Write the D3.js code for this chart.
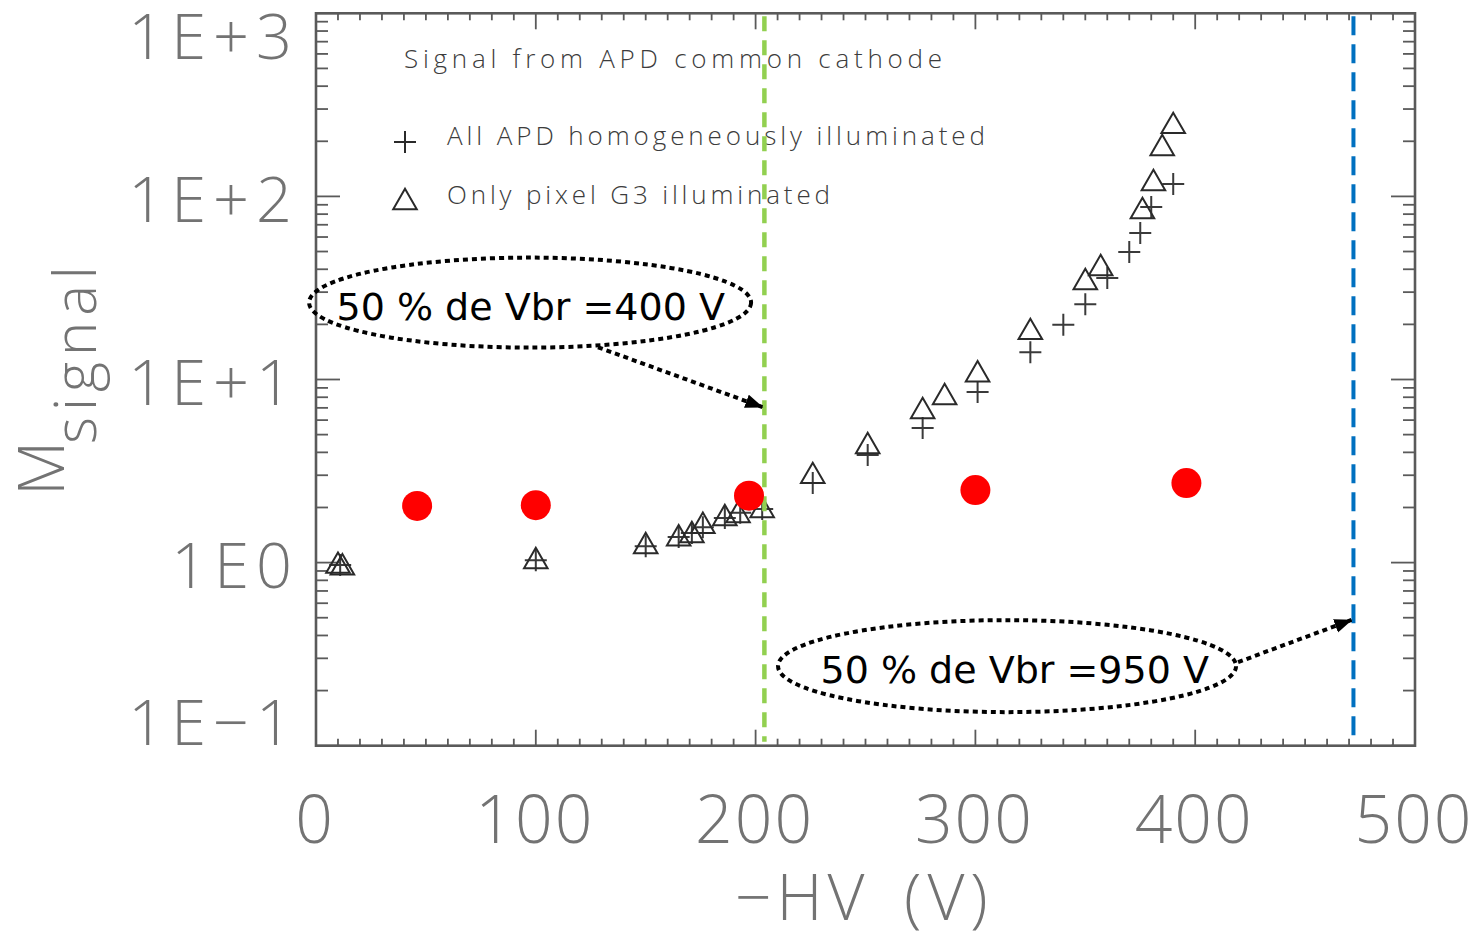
<!DOCTYPE html>
<html>
<head>
<meta charset="utf-8">
<script src="https://cdn.jsdelivr.net/npm/d3@7"></script>
<style>
  body { margin: 0; background: #fff; }
  svg { display: block; }
</style>
</head>
<body>
<svg id="chart" width="1480" height="935"></svg>
<script>
// Gain vs. reverse bias, signal taken from the APD common cathode
const hvAllApd   = [11, 100, 150, 165, 171, 176, 186, 193, 203, 226, 251, 276, 301, 325, 340, 350, 360, 370, 375, 380, 390];
const gainAllApd = [0.97, 1.03, 1.23, 1.38, 1.45, 1.56, 1.75, 1.87, 1.96, 2.72, 3.87, 5.43, 8.55, 14.1, 19.9, 25.8, 35.8, 49.7, 63.1, 87.5, 117];

const hvPixelG3   = [10, 12, 100, 150, 165, 171, 176, 186, 192, 203, 226, 251, 276, 286, 301, 325, 350, 357, 376, 381, 385, 390];
const gainPixelG3 = [1.0, 0.98, 1.06, 1.28, 1.41, 1.47, 1.65, 1.82, 1.89, 2.01, 3.09, 4.50, 6.99, 8.33, 11.1, 18.9, 35.4, 42.2, 86.5, 123, 191, 252];

const hvRef   = [46, 100, 197, 300, 396];
const gainRef = [2.04, 2.06, 2.32, 2.49, 2.72];

const xTickValues = [0, 100, 200, 300, 400, 500];
const yTickValues = [0.1, 1, 10, 100, 1000];
const yTickLabels = ["1E\u22121", "1E0", "1E+1", "1E+2", "1E+3"];

// half-breakdown voltage markers
const vbrHalf   = [204, 472];
const vbrLabels = ["50 % de Vbr =400 V", "50 % de Vbr =950 V"];
const vbrColors = ["#92D050", "#0070C0"];

const svg = d3.select("#chart");
const plotLeft = 316, plotRight = 1415, plotTop = 13.3, plotBottom = 745.7;

const x = d3.scaleLinear().domain([0, 500]).range([plotLeft, plotRight]);
const y = d3.scaleLog().domain([0.1, 1000]).range([plotBottom, plotTop]);

const hershey = "'Open Sans', 'Noto Sans', 'DejaVu Sans', sans-serif";
const frameColor = "#5a5a5a";
const labelColor = "#737373";

// ---- frame with ticks on all four sides ----
const frame = svg.append("g");
frame.append("rect")
  .attr("x", plotLeft).attr("y", plotTop)
  .attr("width", plotRight - plotLeft).attr("height", plotBottom - plotTop)
  .attr("fill", "none").attr("stroke", frameColor).attr("stroke-width", 2.6);

const xMinor = d3.range(0, 501, 10);
xMinor.forEach(v => {
  const major = v % 100 === 0;
  const len = major ? 16 : 7;
  frame.append("line").attr("x1", x(v)).attr("x2", x(v))
    .attr("y1", plotBottom).attr("y2", plotBottom - len)
    .attr("stroke", frameColor).attr("stroke-width", 1.8);
  frame.append("line").attr("x1", x(v)).attr("x2", x(v))
    .attr("y1", plotTop).attr("y2", plotTop + len)
    .attr("stroke", frameColor).attr("stroke-width", 1.8);
});

y.ticks().forEach(v => {
  const major = Math.abs(Math.log10(v) - Math.round(Math.log10(v))) < 1e-9;
  const len = major ? 24 : 12;
  frame.append("line").attr("y1", y(v)).attr("y2", y(v))
    .attr("x1", plotLeft).attr("x2", plotLeft + len)
    .attr("stroke", frameColor).attr("stroke-width", 1.8);
  frame.append("line").attr("y1", y(v)).attr("y2", y(v))
    .attr("x1", plotRight).attr("x2", plotRight - len)
    .attr("stroke", frameColor).attr("stroke-width", 1.8);
});

// ---- tick labels ----
const capH = 45;
svg.append("g").selectAll("text").data(yTickValues).join("text")
  .attr("x", 292)
  .attr("y", v => Math.max(plotTop + capH / 2 + 1, Math.min(plotBottom - capH / 2 - 1, y(v) + 3)) + capH / 2)
  .attr("text-anchor", "end")
  .attr("font-family", hershey).attr("font-weight", 300)
  .attr("font-size", 63).attr("letter-spacing", 7)
  .attr("fill", labelColor)
  .attr("dx", 7)
  .text((v, i) => yTickLabels[i]);

svg.append("g").selectAll("text").data(xTickValues).join("text")
  .attr("x", v => x(v) - 1)
  .attr("y", 843)
  .attr("text-anchor", "middle")
  .attr("font-family", hershey).attr("font-weight", 300)
  .attr("font-size", 66).attr("letter-spacing", 2)
  .attr("fill", labelColor)
  .text(v => v);

// ---- axis titles ----
const xTitle = svg.append("text")
  .attr("y", 920)
  .attr("font-family", hershey).attr("font-weight", 300)
  .attr("font-size", 64).attr("fill", labelColor);
xTitle.append("tspan").attr("x", 735).attr("letter-spacing", 5).text("\u2212HV");
xTitle.append("tspan").attr("x", 904).attr("letter-spacing", 6).text("(V)");

const yTitle = svg.append("text")
  .attr("transform", "translate(64,496) rotate(-90)")
  .attr("font-family", hershey).attr("font-weight", 300)
  .attr("fill", labelColor);
yTitle.append("tspan").attr("font-size", 64).text("M");
yTitle.append("tspan").attr("x", 52).attr("dy", 32)
  .attr("font-size", 58)
  .attr("textLength", 178).attr("lengthAdjust", "spacing")
  .text("signal");

// ---- legend ----
const legendColor = "#3c3c3c";
const legend = svg.append("g")
  .attr("font-family", hershey).attr("font-weight", 300)
  .attr("fill", legendColor).attr("font-size", 26);
legend.append("text").attr("x", 404).attr("y", 68)
  .attr("textLength", 538).attr("lengthAdjust", "spacing")
  .text("Signal from APD common cathode");
legend.append("text").attr("x", 447).attr("y", 145)
  .attr("textLength", 538).attr("lengthAdjust", "spacing")
  .text("All APD homogeneously illuminated");
legend.append("text").attr("x", 447).attr("y", 204)
  .attr("textLength", 383).attr("lengthAdjust", "spacing")
  .text("Only pixel G3 illuminated");

// ---- symbols ----
const plusSym = {
  draw(ctx, size) {
    const r = Math.sqrt(size) / 2;
    ctx.moveTo(-r, 0); ctx.lineTo(r, 0);
    ctx.moveTo(0, -r); ctx.lineTo(0, r);
  }
};
const triSym = {
  draw(ctx, size) {
    const a = Math.sqrt(size * 4 / Math.sqrt(3));
    const h = a * Math.sqrt(3) / 2;
    ctx.moveTo(0, -h / 2);
    ctx.lineTo(a / 2, h / 2);
    ctx.lineTo(-a / 2, h / 2);
    ctx.closePath();
  }
};
const plusPath = d3.symbol().type(plusSym).size(22 * 22)();
const triPath = d3.symbol().type(triSym).size(240)();

const markStroke = "#2a2a2a";

svg.append("path").attr("d", plusPath).attr("transform", "translate(405,142)")
  .attr("fill", "none").attr("stroke", markStroke).attr("stroke-width", 2);
svg.append("path").attr("d", triPath).attr("transform", "translate(405,199)")
  .attr("fill", "none").attr("stroke", markStroke).attr("stroke-width", 2);

svg.append("g").selectAll("path").data(hvAllApd).join("path")
  .attr("d", plusPath)
  .attr("transform", (v, i) => `translate(${x(v)},${y(gainAllApd[i])})`)
  .attr("fill", "none").attr("stroke", "#3a3a3a").attr("stroke-width", 2);

svg.append("g").selectAll("path").data(hvPixelG3).join("path")
  .attr("d", triPath)
  .attr("transform", (v, i) => `translate(${x(v)},${y(gainPixelG3[i])})`)
  .attr("fill", "none").attr("stroke", markStroke).attr("stroke-width", 2);

// ---- half-breakdown reference lines ----
svg.append("g").selectAll("line").data(vbrHalf).join("line")
  .attr("x1", v => x(v)).attr("x2", v => x(v))
  .attr("y1", plotTop + 3).attr("y2", plotBottom - 4)
  .attr("stroke", (v, i) => vbrColors[i])
  .attr("stroke-width", (v, i) => i === 0 ? 4.5 : 4)
  .attr("stroke-dasharray", (v, i) => i === 0 ? "15 9" : "19 9");

// ---- reference gain points ----
svg.append("g").selectAll("circle").data(hvRef).join("circle")
  .attr("cx", v => x(v))
  .attr("cy", (v, i) => y(gainRef[i]))
  .attr("r", 15)
  .attr("fill", "#FF0000");

// ---- callouts ----
svg.append("defs").append("marker")
  .attr("id", "head").attr("markerUnits", "userSpaceOnUse")
  .attr("markerWidth", 20).attr("markerHeight", 16)
  .attr("refX", 17).attr("refY", 7).attr("orient", "auto")
  .append("path").attr("d", "M0,0 L18,7 L0,14 Z").attr("fill", "#000");

const callouts = [
  { hv: 97.4, gain: 26.3, rx: 221, ry: 45, textHv: 97.7, textGain: 21.1,
    fromHv: 128.3, fromGain: 15.0, toGain: 7.07 },
  { hv: 314.4, gain: 0.272, rx: 229, ry: 46, textHv: 317.9, textGain: 0.220,
    fromHv: 419.5, fromGain: 0.286, toGain: 0.486 }
];

const co = svg.append("g");
callouts.forEach((c, i) => {
  co.append("ellipse")
    .attr("cx", x(c.hv)).attr("cy", y(c.gain))
    .attr("rx", c.rx).attr("ry", c.ry)
    .attr("fill", "none").attr("stroke", "#000")
    .attr("stroke-width", 4).attr("stroke-dasharray", "5 4");
  co.append("text")
    .attr("x", x(c.textHv)).attr("y", y(c.textGain))
    .attr("text-anchor", "middle")
    .attr("font-family", "'DejaVu Sans', sans-serif")
    .attr("font-size", 38).attr("fill", "#000")
    .text(vbrLabels[i]);
  co.append("line")
    .attr("x1", x(c.fromHv)).attr("y1", y(c.fromGain))
    .attr("x2", x(vbrHalf[i]) - 2).attr("y2", y(c.toGain))
    .attr("stroke", "#000").attr("stroke-width", 4)
    .attr("stroke-dasharray", "5 4")
    .attr("marker-end", "url(#head)");
});
</script>
</body>
</html>
